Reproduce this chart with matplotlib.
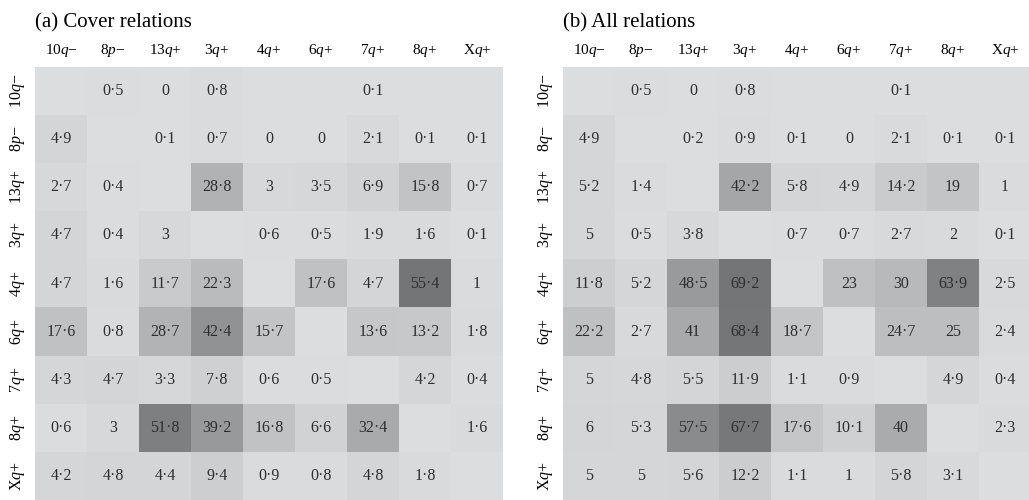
import numpy as np
import matplotlib
matplotlib.use("Agg")
import matplotlib.pyplot as plt
from matplotlib.colors import LinearSegmentedColormap

plt.rcParams["font.family"] = ["Liberation Serif", "DejaVu Serif"]
plt.rcParams["mathtext.fontset"] = "custom"
plt.rcParams["mathtext.rm"] = "Liberation Serif"
plt.rcParams["mathtext.it"] = "Liberation Serif:italic"

nan = np.nan

col_labels = ["10$q$\u2212", "8$p$\u2212", "13$q$+", "3$q$+", "4$q$+",
              "6$q$+", "7$q$+", "8$q$+", "X$q$+"]
rows_a = ["10$q$\u2212", "8$p$\u2212", "13$q$+", "3$q$+", "4$q$+",
          "6$q$+", "7$q$+", "8$q$+", "X$q$+"]
rows_b = ["10$q$\u2212", "8$q$\u2212", "13$q$+", "3$q$+", "4$q$+",
          "6$q$+", "7$q$+", "8$q$+", "X$q$+"]

cover = [
    [nan, 0.5, 0, 0.8, nan, nan, 0.1, nan, nan],
    [4.9, nan, 0.1, 0.7, 0, 0, 2.1, 0.1, 0.1],
    [2.7, 0.4, nan, 28.8, 3, 3.5, 6.9, 15.8, 0.7],
    [4.7, 0.4, 3, nan, 0.6, 0.5, 1.9, 1.6, 0.1],
    [4.7, 1.6, 11.7, 22.3, nan, 17.6, 4.7, 55.4, 1],
    [17.6, 0.8, 28.7, 42.4, 15.7, nan, 13.6, 13.2, 1.8],
    [4.3, 4.7, 3.3, 7.8, 0.6, 0.5, nan, 4.2, 0.4],
    [0.6, 3, 51.8, 39.2, 16.8, 6.6, 32.4, nan, 1.6],
    [4.2, 4.8, 4.4, 9.4, 0.9, 0.8, 4.8, 1.8, nan],
]

all_rel = [
    [nan, 0.5, 0, 0.8, nan, nan, 0.1, nan, nan],
    [4.9, nan, 0.2, 0.9, 0.1, 0, 2.1, 0.1, 0.1],
    [5.2, 1.4, nan, 42.2, 5.8, 4.9, 14.2, 19, 1],
    [5, 0.5, 3.8, nan, 0.7, 0.7, 2.7, 2, 0.1],
    [11.8, 5.2, 48.5, 69.2, nan, 23, 30, 63.9, 2.5],
    [22.2, 2.7, 41, 68.4, 18.7, nan, 24.7, 25, 2.4],
    [5, 4.8, 5.5, 11.9, 1.1, 0.9, nan, 4.9, 0.4],
    [6, 5.3, 57.5, 67.7, 17.6, 10.1, 40, nan, 2.3],
    [5, 5, 5.6, 12.2, 1.1, 1, 5.8, 3.1, nan],
]

# grey ramp, slightly bluish, with a softer middle
def grey(g):
    return (g / 255, (g + 1) / 255, (g + 3) / 255)

ramp = [(0.0, 220), (0.1, 211), (0.32, 192), (0.52, 178),
        (0.76, 146), (0.93, 128), (1.0, 116)]
greys = LinearSegmentedColormap.from_list("greys", [(p, grey(g)) for p, g in ramp])
empty_col = grey(220)
greys.set_bad(empty_col)

W, H = 1029, 500
fig = plt.figure(figsize=(W / 100, H / 100), dpi=100)


def panel(x0, title, rows, data):
    arr = np.ma.masked_invalid(np.array(data, dtype=float))
    ax = fig.add_axes([x0 / W, 0, 468 / W, 433 / H])
    ax.imshow(arr, cmap=greys, vmin=0, vmax=np.nanmax(data), aspect="auto",
              interpolation="nearest")
    for i in range(arr.shape[0]):
        for j in range(arr.shape[1]):
            v = data[i][j]
            if np.isnan(v):
                continue
            ax.text(j, i, f"{v:g}".replace(".", "\u00b7"), ha="center",
                    va="center", fontsize=11.5, color="#2e2e2e")
    ax.set_xticks(range(9))
    ax.set_xticklabels(col_labels, fontsize=11)
    ax.xaxis.tick_top()
    ax.set_yticks(range(9))
    ax.set_yticklabels(rows, fontsize=11.5, rotation=90, va="center")
    ax.tick_params(length=0, pad=6)
    for s in ax.spines.values():
        s.set_visible(False)
    fig.text(x0 / W, 1 - 27 / H, title, fontsize=15, ha="left",
             va="baseline")
    return ax


panel(35, "(a) Cover relations", rows_a, cover)
panel(563, "(b) All relations", rows_b, all_rel)

fig.savefig("out.png", dpi=100)
